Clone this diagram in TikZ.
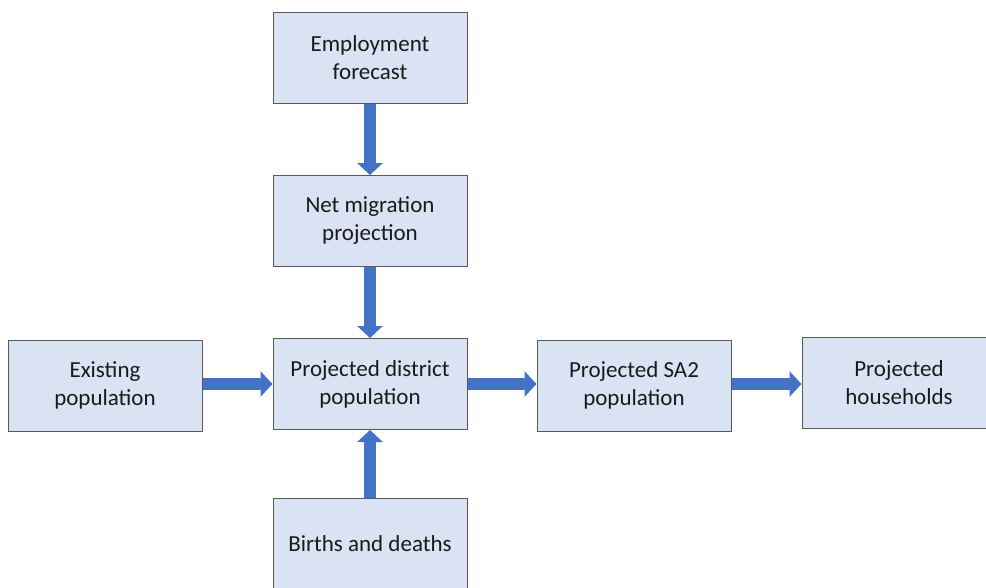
\documentclass[tikz,border=0pt]{standalone}
\usepackage{fontspec}
\setmainfont{Carlito}
\usetikzlibrary{arrows.meta, positioning}
\definecolor{boxfill}{HTML}{DAE3F3}
\definecolor{boxline}{HTML}{595959}
\definecolor{arrblue}{HTML}{4472C4}
\definecolor{textdark}{HTML}{1A1A1A}
\tikzset{
  flowbox/.style={draw=boxline, fill=boxfill, line width=1pt,
              minimum width=194pt, minimum height=91pt,
              align=center, text=textdark, font=\fontsize{23}{28}\selectfont},
  blockarr/.style={-{Triangle[width=25pt, length=12pt]}, line width=12pt, color=arrblue},
}

\begin{document}
\begin{tikzpicture}[x=1pt, y=-1pt]
  \useasboundingbox (0,0) rectangle (986,587);
  \clip (0,0) rectangle (986,587);

  % Top column
  \node[flowbox] (emp) at (370,57.5) {Employment\\forecast};
  \node[flowbox] (net) at (370,221) {Net migration\\projection};

  % Middle row
  \node[flowbox] (exist) at (105,385.5) {Existing\\population};
  \node[flowbox] (dist)  at (370,384)   {Projected district\\population};
  \node[flowbox] (sa2)   at (634,385.5) {Projected SA2\\population};
  \node[flowbox] (hh)    at (899,382.5) {Projected\\households};

  % Bottom
  \node[flowbox] (births) at (370,543.5) {Births and deaths};

  % Arrows
  \draw[blockarr] (emp.south) -- (net.north);
  \draw[blockarr] (net.south) -- (dist.north);
  \draw[blockarr] (births.north) -- (dist.south);
  \draw[blockarr] (exist.east |- dist.east) -- (dist.east -| dist.west);
  \draw[blockarr] (dist.east) -- (dist.east -| sa2.west);
  \draw[blockarr] (sa2.east |- dist.east) -- (dist.east -| hh.west);
\end{tikzpicture}
\end{document}
